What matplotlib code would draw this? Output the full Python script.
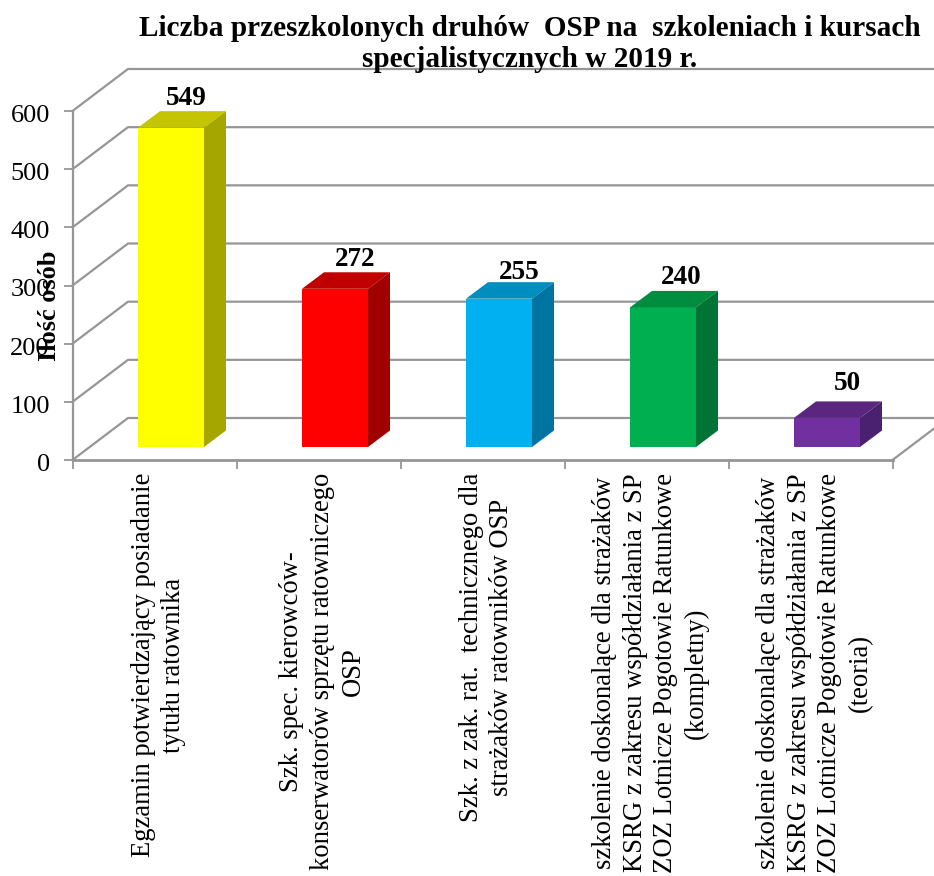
import matplotlib
matplotlib.use('Agg')
import matplotlib.pyplot as plt
from matplotlib.patches import Polygon
from matplotlib.transforms import ScaledTranslation

plt.rcParams['font.family'] = ['Liberation Serif', 'DejaVu Serif']

# data
categories = [
    'Egzamin potwierdzający posiadanie\ntytułu ratownika',
    'Szk. spec. kierowców-\nkonserwatorów sprzętu ratowniczego\nOSP',
    'Szk. z zak. rat.  technicznego dla\nstrażaków ratowników OSP',
    'szkolenie doskonalące dla strażaków\nKSRG z zakresu współdziałania z SP\nZOZ Lotnicze Pogotowie Ratunkowe\n(kompletny)',
    'szkolenie doskonalące dla strażaków\nKSRG z zakresu współdziałania z SP\nZOZ Lotnicze Pogotowie Ratunkowe\n(teoria)',
]
values = [549, 272, 255, 240, 50]
front_colors = ['#FFFF00', '#FF0000', '#00B0F0', '#00B050', '#7030A0']
top_colors = ['#C4C400', '#C00000', '#008DC0', '#008D40', '#5A2680']
side_colors = ['#A6A600', '#A00000', '#0074A0', '#007434', '#4A2070']
y_ticks = [0, 100, 200, 300, 400, 500, 600]
title = 'Liczba przeszkolonych druhów  OSP na  szkoleniach i kursach\nspecjalistycznych w 2019 r.'

W, H = 934, 876
fig = plt.figure(figsize=(W / 100, H / 100), dpi=100)

# axes = front plane of the 3d box, in pixels
left, right, top, bottom = 72.5, 892.5, 111, 460
ax = fig.add_axes([left / W, 1 - bottom / H, (right - left) / W, (bottom - top) / H])
ax.set_xlim(0, 5)
ax.set_ylim(0, 600)
ax.patch.set_visible(False)

px_x = 5 / (right - left)
px_y = 600 / (bottom - top)

# oblique offsets
back_dx, back_dy = 55.5 * px_x, 42 * px_y
gap_dx, gap_dy = 16.5 * px_x, 13 * px_y
depth_dx, depth_dy = 22 * px_x, 16.5 * px_y
bar_w = 66 * px_x
grid_c = '#969696'
line_w = 1.6

# walls, no vertical line on the back wall
for t in y_ticks:
    ax.plot([0, back_dx, 5 + back_dx], [t, t + back_dy, t + back_dy], color=grid_c, lw=line_w, clip_on=False, zorder=1)
ax.plot([0, 5], [0, 0], color=grid_c, lw=line_w + 0.4, clip_on=False, zorder=1)
ax.plot([5, 5 + back_dx], [0, back_dy], color=grid_c, lw=line_w, clip_on=False, zorder=1)

# axis lines and ticks
ax.spines[['top', 'right', 'left', 'bottom']].set_visible(False)
ax.plot([0, 0], [0, 600], color=grid_c, lw=line_w, clip_on=False, zorder=1)
ax.set_yticks(y_ticks)
ax.set_xticks(range(6))
ax.set_xticklabels([])
ax.tick_params(axis='both', color=grid_c, width=1.3, length=6.3)
ax.tick_params(axis='y', labelsize=19, pad=10)
for lab in ax.get_yticklabels():
    lab.set_transform(lab.get_transform() + ScaledTranslation(0, -2.5 / 100, fig.dpi_scale_trans))

# small corrections to the value labels, in pixels
label_dx = [7, 12, 12, 10, 12]
label_dy = [-1, -1, -4, 0, 4]

# bars
for i, v in enumerate(values):
    x0 = i + 0.5 - bar_w / 2 + gap_dx
    x1 = x0 + bar_w
    y0 = gap_dy
    y1 = v + gap_dy
    ax.add_patch(Polygon([(x0, y0), (x1, y0), (x1, y1), (x0, y1)], fc=front_colors[i], ec='none', clip_on=False, zorder=3))
    ax.add_patch(Polygon([(x0, y1), (x1, y1), (x1 + depth_dx, y1 + depth_dy), (x0 + depth_dx, y1 + depth_dy)],
                         fc=top_colors[i], ec='none', clip_on=False, zorder=3))
    ax.add_patch(Polygon([(x1, y0), (x1 + depth_dx, y0 + depth_dy), (x1 + depth_dx, y1 + depth_dy), (x1, y1)],
                         fc=side_colors[i], ec='none', clip_on=False, zorder=3))
    ax.text(x0 + bar_w / 2 + (8 + label_dx[i]) * px_x, y1 + depth_dy + (1 + label_dy[i]) * px_y, str(v), ha='center', va='bottom',
            fontsize=19.5, fontweight='bold', zorder=5, clip_on=False)

# category labels, rotated
for i, lab in enumerate(categories):
    ax.text(i + 0.5 + 4 * px_x, -13 * px_y, lab, rotation=90, ha='center', va='top', multialignment='center',
            fontsize=19.2, linespacing=1.3, clip_on=False)

fig.text(49 / W, 1 - 306 / H, 'Ilość osób', rotation=90, ha='center', va='center', fontsize=19, fontweight='bold')
fig.text(529.5 / W, 1 - 44 / H, title, ha='center', va='center', fontsize=21.1, fontweight='bold', linespacing=1.22, zorder=6)

fig.savefig('out.png', dpi=100)
